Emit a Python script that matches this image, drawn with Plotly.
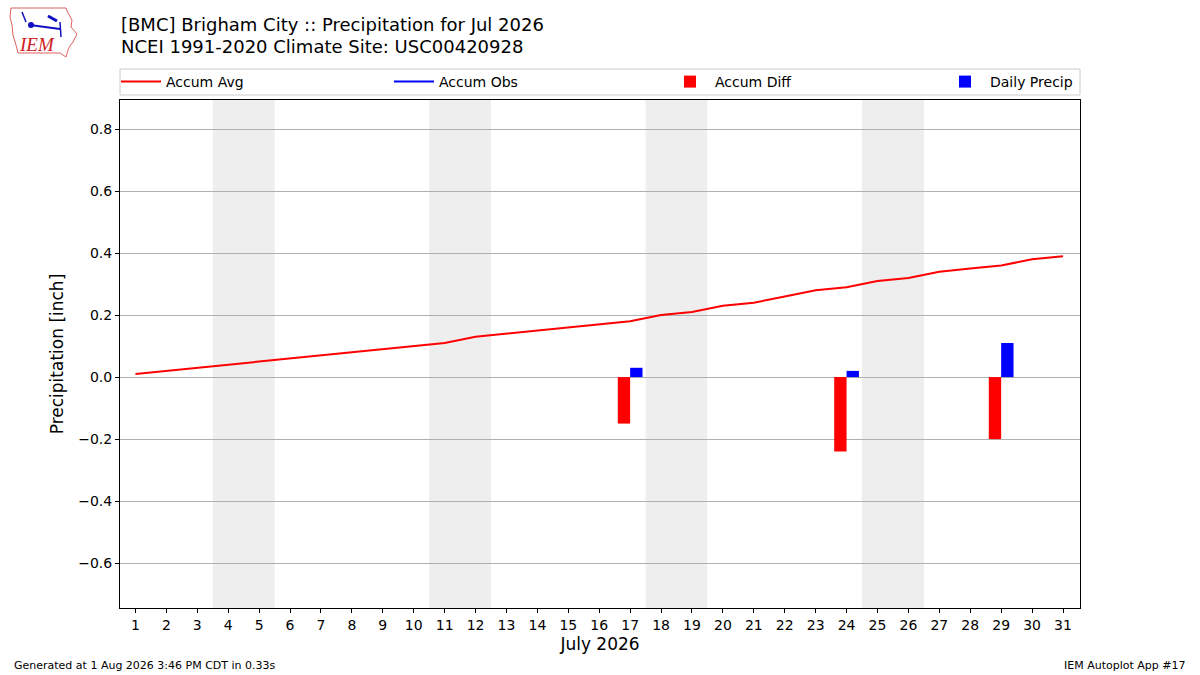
import datetime
import plotly.graph_objects as go

# July 2026 daily climatology / observations (inch)
days = list(range(1, 32))
accum_avg = [0.01, 0.02, 0.03, 0.04, 0.05, 0.06, 0.07, 0.08, 0.09, 0.10,
             0.11, 0.13, 0.14, 0.15, 0.16, 0.17, 0.18, 0.20, 0.21, 0.23,
             0.24, 0.26, 0.28, 0.29, 0.31, 0.32, 0.34, 0.35, 0.36, 0.38, 0.39]
precip_days = [17, 24, 29]
daily_precip = [0.03, 0.02, 0.11]
accum_diff = [-0.15, -0.24, -0.20]

# plot area in pixels (1200x675 page)
L, R, T, B = 120, 1080, 100, 608


def px(x):
    return (x - L) / (R - L)


def py(y):
    return (B - y) / (B - T)


fig = go.Figure()

fig.add_trace(go.Scatter(x=days, y=accum_avg, mode="lines", name="Accum Avg",
                         line=dict(color="red", width=2), legend="legend"))
fig.add_trace(go.Scatter(x=[None], y=[None], mode="lines", name="Accum Obs",
                         line=dict(color="blue", width=2), legend="legend2"))
fig.add_trace(go.Bar(x=precip_days, y=accum_diff, name="Accum Diff",
                     marker=dict(color="red", line=dict(width=0)),
                     width=0.4, offset=-0.4, legend="legend3"))
fig.add_trace(go.Bar(x=precip_days, y=daily_precip, name="Daily Precip",
                     marker=dict(color="blue", line=dict(width=0)),
                     width=0.4, offset=0, legend="legend4"))

# weekend shading
for d in days:
    if datetime.date(2026, 7, d).weekday() == 5:
        fig.add_vrect(x0=d - 0.5, x1=d + 1.5, fillcolor="#eeeeee",
                      line_width=0, layer="below")

# legend frame
fig.add_shape(type="rect", xref="paper", yref="paper",
              x0=px(120), x1=px(1080), y0=py(95), y1=py(69),
              line=dict(color="#cccccc", width=1))

# title lines
fig.add_annotation(text="[BMC] Brigham City :: Precipitation for Jul 2026",
                   xref="paper", yref="paper", x=px(119), y=py(24),
                   xanchor="left", yanchor="middle", showarrow=False,
                   font=dict(size=18, color="black"))
fig.add_annotation(text="NCEI 1991-2020 Climate Site: USC00420928",
                   xref="paper", yref="paper", x=px(119), y=py(47),
                   xanchor="left", yanchor="middle", showarrow=False,
                   font=dict(size=18, color="black"))

# footer
fig.add_annotation(text="Generated at 1 Aug 2026 3:46 PM CDT in 0.33s",
                   xref="paper", yref="paper", x=px(12), y=py(665),
                   xanchor="left", yanchor="middle", showarrow=False,
                   font=dict(size=11, color="black"))
fig.add_annotation(text="IEM Autoplot App #17",
                   xref="paper", yref="paper", x=px(1188), y=py(665),
                   xanchor="right", yanchor="middle", showarrow=False,
                   font=dict(size=11, color="black"))

# rough IEM logo
outline = [(11, 8), (66, 8), (68, 13), (72, 20), (71, 27), (77, 34), (73, 42),
           (70, 46), (68, 50), (66, 57), (60, 53), (18, 53), (16, 45), (13, 35),
           (12, 25), (10, 17)]
path = "M " + " L ".join(f"{px(x):.5f},{py(y):.5f}" for x, y in outline) + " Z"
fig.add_shape(type="path", path=path, xref="paper", yref="paper",
              line=dict(color="#e06060", width=1))
fig.add_shape(type="line", xref="paper", yref="paper",
              x0=px(30), y0=py(25), x1=px(60), y1=py(29),
              line=dict(color="#1010c0", width=2))
fig.add_shape(type="line", xref="paper", yref="paper",
              x0=px(48), y0=py(16), x1=px(57), y1=py(21),
              line=dict(color="#1010c0", width=3))
fig.add_shape(type="line", xref="paper", yref="paper",
              x0=px(60), y0=py(22), x1=px(61), y1=py(37),
              line=dict(color="#1010c0", width=1.5))
fig.add_shape(type="line", xref="paper", yref="paper",
              x0=px(22), y0=py(12), x1=px(26), y1=py(22),
              line=dict(color="#1010c0", width=1.5))
fig.add_shape(type="circle", xref="paper", yref="paper",
              x0=px(28), y0=py(22), x1=px(34), y1=py(28),
              fillcolor="#1010c0", line=dict(width=0))
fig.add_annotation(text="<i>IEM</i>", xref="paper", yref="paper",
                   x=px(37), y=py(45), xanchor="center", yanchor="middle",
                   showarrow=False,
                   font=dict(family="Liberation Serif", size=19, color="#d02020"))

legend_common = dict(orientation="h", xanchor="left", yanchor="middle",
                     y=py(82), bgcolor="rgba(0,0,0,0)", borderwidth=0,
                     font=dict(size=14), itemwidth=40)

fig.update_layout(
    width=1200, height=675,
    margin=dict(l=L, r=1200 - R, t=T, b=675 - B),
    paper_bgcolor="white", plot_bgcolor="white",
    font=dict(family="DejaVu Sans", color="black", size=14),
    barmode="overlay",
    showlegend=True,
    legend=dict(x=px(116), **legend_common),
    legend2=dict(x=px(389), **legend_common),
    legend3=dict(x=px(665), **legend_common),
    legend4=dict(x=px(940), **legend_common),
    xaxis=dict(range=[0.5, 31.55], tickmode="array", tickvals=days,
               ticktext=[str(d) for d in days],
               showgrid=False, zeroline=False,
               showline=True, linecolor="black", linewidth=1, mirror=True,
               ticks="outside", ticklen=4, tickcolor="black",
               tickfont=dict(size=14),
               title=dict(text="July 2026", font=dict(size=17), standoff=6)),
    yaxis=dict(range=[-0.745, 0.894], tickmode="array",
               tickvals=[-0.6, -0.4, -0.2, 0.0, 0.2, 0.4, 0.6, 0.8],
               ticktext=["\u22120.6", "\u22120.4", "\u22120.2", "0.0",
                         "0.2", "0.4", "0.6", "0.8"],
               showgrid=True, gridcolor="#b0b0b0", gridwidth=1,
               zeroline=False,
               showline=True, linecolor="black", linewidth=1, mirror=True,
               ticks="outside", ticklen=4, tickcolor="black",
               tickfont=dict(size=14),
               title=dict(text="Precipitation [inch]", font=dict(size=17),
                          standoff=10)),
)

fig.write_html("out.html", config={"displayModeBar": False},
               post_script="document.body.style.margin='0';")
